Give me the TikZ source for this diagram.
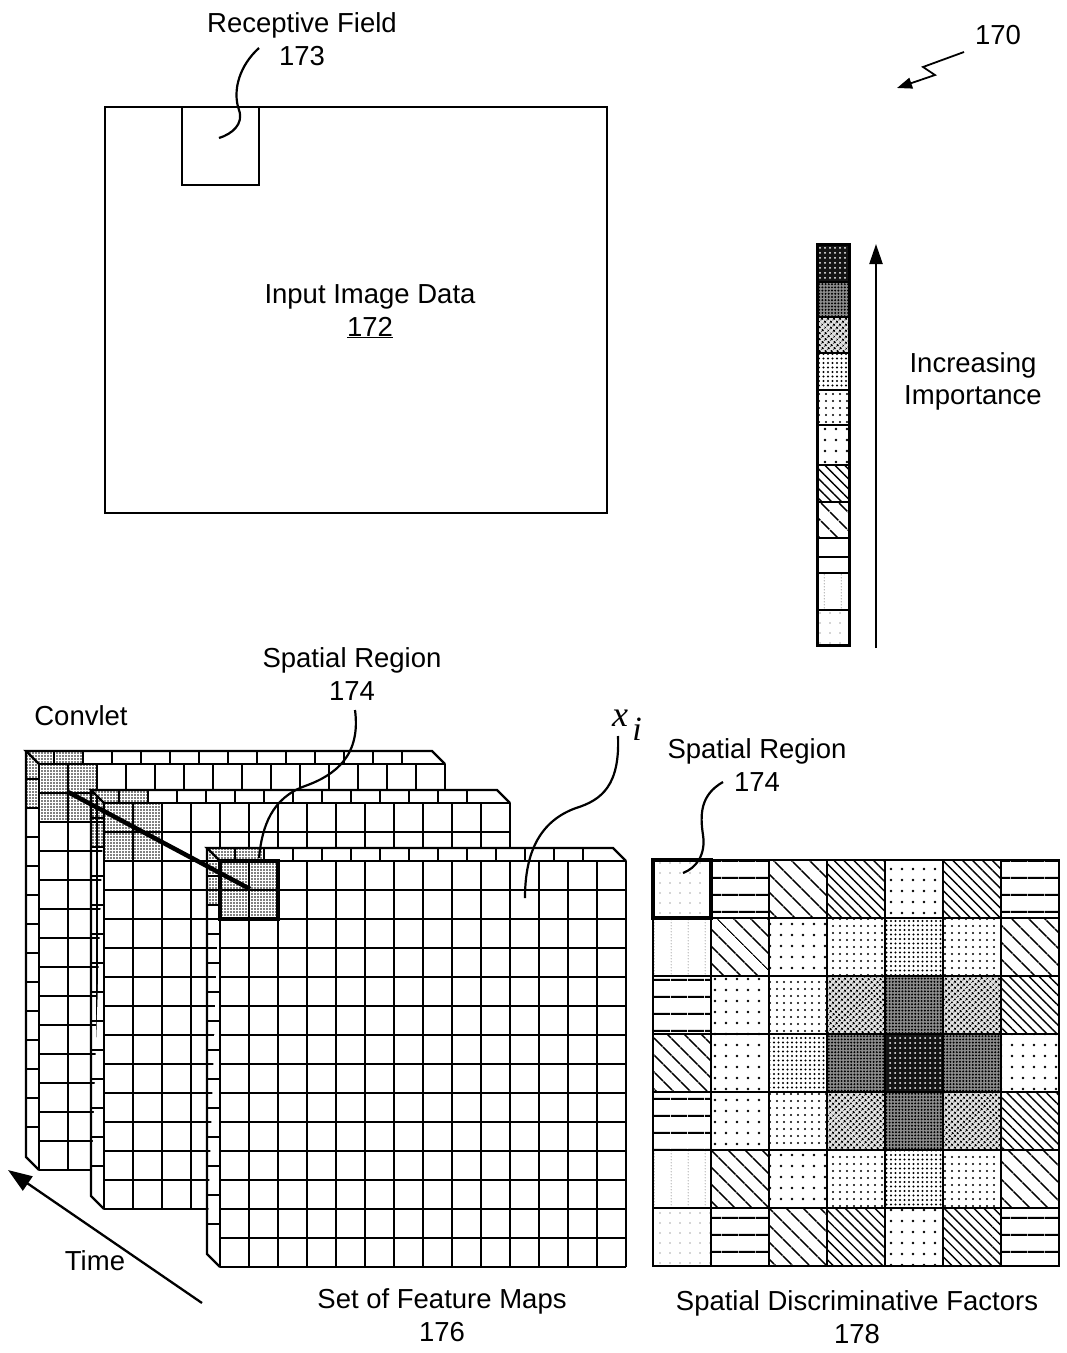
\documentclass[tikz,border=0pt]{standalone}
\usepackage{fontspec}
\setmainfont{Liberation Sans}
\newfontfamily\serfam{Liberation Serif}
\usetikzlibrary{patterns,patterns.meta,arrows.meta}
\pgfdeclarepatternformonly{vdotlines}{\pgfpointorigin}{\pgfpoint{17pt}{3pt}}{\pgfpoint{17pt}{3pt}}{\pgfpathcircle{\pgfpoint{8.5pt}{1.5pt}}{0.6pt}\pgfusepath{fill}}
\tikzset{
  txt/.style={font=\fontsize{27.5}{33}\selectfont, inner sep=0pt, anchor=base},
  gl/.style={line width=2.3pt},
  sg/.style={line width=2.8pt},
  co/.style={line width=2.2pt},
  stip/.style={pattern={Dots[distance=3pt,radius=0.85pt]}, pattern color=black},
  pL1/.style={pattern={Dots[distance=10pt,radius=0.7pt]}, pattern color=black!70},
  pL2/.style={pattern=vdotlines, pattern color=black!60},
  pL3/.style={pattern={Lines[angle=0,distance=17pt,line width=2pt]}},
  pL4/.style={pattern={Lines[angle=-45,distance=13pt,line width=1.7pt]}},
  pL5/.style={pattern={Lines[angle=-45,distance=7pt,line width=1.4pt]}},
  pL6/.style={pattern={Dots[distance=11pt,radius=1.3pt]}},
  pL7/.style={pattern={Dots[distance=7pt,radius=1.2pt]}},
  pL8/.style={pattern={Dots[distance=4.5pt,radius=1.15pt]}},
  pL9/.style={preaction={fill=black!12}, pattern={Dots[distance=4pt,radius=1.45pt,angle=45]}},
  pL10/.style={preaction={fill=black!45}, pattern={Dots[distance=3.2pt,radius=1.1pt]}},
  pL11/.style={preaction={fill=black!92}, pattern={Dots[distance=5pt,radius=1pt]}, pattern color=white},
}
\newcommand{\featmap}[2]{%
\begin{scope}[shift={(#1,#2)}]
  \fill[white] (0,0) -- (-13,-13) -- (393,-13) -- (406,0) -- (406,406) -- (0,406) -- (-13,393) -- cycle;
  \path[stip] (0,0) rectangle (58,58);
  \path[stip] (0,0) -- (-13,-13) -- (44,-13) -- (44,0) -- cycle;
  \path[stip] (0,0) -- (-13,-13) -- (-13,44) -- (0,44) -- cycle;
  \foreach \k in {0,...,14} {\draw[gl] (\k*29,0) -- (\k*29,406); \draw[gl] (0,\k*29) -- (406,\k*29);}
  \foreach \k in {1,...,13} {\draw[gl] (\k*29-14,-13) -- (\k*29-14,0); \draw[gl] (-13,\k*29-14) -- (0,\k*29-14);}
  \draw[gl, line join=miter] (0,0) -- (-13,-13) -- (393,-13) -- (406,0);
  \draw[gl, line join=miter] (-13,-13) -- (-13,393) -- (0,406);
\end{scope}}
\begin{document}
\begin{tikzpicture}[x=1pt,y=-1pt]
\useasboundingbox (0,0) rectangle (1067,1353);
\fill[white] (0,0) rectangle (1067,1353);

% ---------- top: input image ----------
\node[draw, line width=2.2pt, minimum width=502pt, minimum height=406pt, inner sep=0pt, anchor=north west] (img) at (104,106) {};
\node[draw, line width=2.2pt, minimum width=77pt, minimum height=78pt, inner sep=0pt, anchor=north west] (rfbox) at (181,106) {};
\node[txt] (rft) at (302,32) {Receptive Field};
\node[txt] (rfn) at (302,65) {173};
\coordinate (rfa) at (259,48);
\coordinate (rfb) at (219,138);
\draw[co] (rfa) .. controls (240,65) and (232,90) .. (239,110) .. controls (244,124) and (232,134) .. (rfb);
\node[txt] (imgt) at (370,303) {Input Image Data};
\node[txt] (imgn) at (370,336) {\underline{172}};

% ---------- figure number ----------
\node[txt] (fig) at (998,44) {170};
\coordinate (figa) at (964,52);
\coordinate (figb) at (897,88);
\draw[line width=1.8pt, line join=miter, -{Triangle[length=15pt,width=11pt]}] (figa) -- (923,67) -- (935,75) -- (figb);

% ---------- legend ----------
\foreach \L/\ya/\yb in {11/244/282, 10/282/317, 9/317/353, 8/353/390, 7/390/425, 6/425/465, 5/465/502, 4/502/538, 2/573/610, 1/610/645}
  {\path[pL\L] (817,\ya) rectangle (849,\yb);}
\draw[line width=2.8pt] (817,557) -- (849,557);
\foreach \y in {282,317,353,390,425,465,502,538,573,610}
  {\draw[line width=2.6pt] (817,\y) -- (849,\y);}
\draw[line width=3pt] (817,244) rectangle (849,645);
\coordinate (lga) at (876,648);
\coordinate (lgb) at (876,244);
\draw[line width=2.3pt, -{Triangle[length=20pt,width=13pt]}] (lga) -- (lgb);
\node[txt] (inc1) at (973,372) {Increasing};
\node[txt] (inc2) at (973,404) {Importance};

% ---------- feature maps ----------
\featmap{39}{764}
\featmap{104}{803}
\featmap{220}{861}
\draw[line width=4pt] (220,861) rectangle (278,919);
\coordinate (cv1) at (68,792);
\coordinate (cv3) at (250,889);
\draw[line width=4.5pt] (cv1) -- (cv3);

\node[txt] (cvt) at (81,725) {Convlet};
\node[txt] (sr1t) at (352,667) {Spatial Region};
\node[txt] (sr1n) at (352,700) {174};
\coordinate (sr1a) at (355,710);
\coordinate (sr1b) at (259,858);
\draw[co] (sr1a) .. controls (361,755) and (336,775) .. (305,786) .. controls (272,798) and (262,826) .. (sr1b);

\node[font=\fontsize{36}{36}\selectfont\serfam\itshape, inner sep=0pt, anchor=base] (xi) at (620,726) {x};
\node[font=\fontsize{34}{34}\selectfont\serfam\itshape, inner sep=0pt, anchor=base] (xii) at (637,740) {i};
\coordinate (xia) at (618,736);
\coordinate (xib) at (525,898);
\draw[co] (xia) .. controls (620,785) and (602,800) .. (576,808) .. controls (540,821) and (525,852) .. (xib);

\draw[line width=2.3pt, -{Triangle[length=24pt,width=17pt]}] (202,1303) -- (8,1170);
\node[txt] (timet) at (95,1270) {Time};
\node[txt] (fmt) at (442,1308) {Set of Feature Maps};
\node[txt] (fmn) at (442,1341) {176};

% ---------- spatial discriminative factors ----------
\foreach \r/\c/\L in {
 0/0/1, 0/1/3, 0/2/4, 0/3/5, 0/4/6, 0/5/5, 0/6/3,
 1/0/2, 1/1/4, 1/2/6, 1/3/7, 1/4/8, 1/5/7, 1/6/4,
 2/0/3, 2/1/6, 2/2/7, 2/3/9, 2/4/10, 2/5/9, 2/6/5,
 3/0/4, 3/1/6, 3/2/8, 3/3/10, 3/4/11, 3/5/10, 3/6/6,
 4/0/3, 4/1/6, 4/2/7, 4/3/9, 4/4/10, 4/5/9, 4/6/5,
 5/0/2, 5/1/4, 5/2/6, 5/3/7, 5/4/8, 5/5/7, 5/6/4,
 6/0/1, 6/1/3, 6/2/4, 6/3/5, 6/4/6, 6/5/5, 6/6/3}
 {\path[pL\L] ({653+58*\c},{860+58*\r}) rectangle ++(58,58);}
\foreach \k in {0,...,7} {
  \draw[sg] ({653+58*\k},860) -- ({653+58*\k},1266);
  \draw[sg] (653,{860+58*\k}) -- (1059,{860+58*\k});}
\draw[sg] (653,860) rectangle (1059,1266);
\draw[line width=4.5pt] (653,860) rectangle (711,918);
\node[txt] (sr2t) at (757,758) {Spatial Region};
\node[txt] (sr2n) at (757,791) {174};
\coordinate (sr2a) at (723,782);
\coordinate (sr2b) at (683,873);
\draw[co] (sr2a) .. controls (700,795) and (700,815) .. (703,835) .. controls (706,855) and (696,868) .. (sr2b);
\node[txt] (sdft) at (857,1310) {Spatial Discriminative Factors};
\node[txt] (sdfn) at (857,1343) {178};
\end{tikzpicture}
\end{document}
